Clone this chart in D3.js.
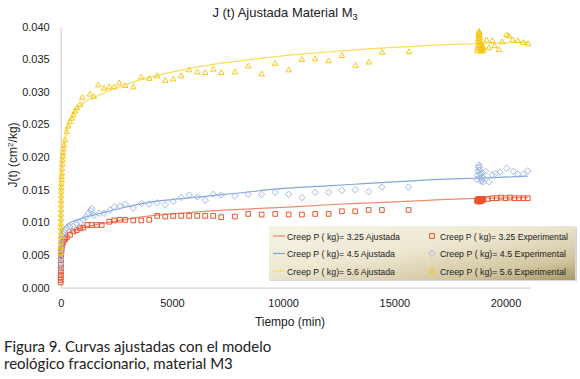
<!DOCTYPE html>
<html>
<head>
<meta charset="utf-8">
<script src="https://cdn.jsdelivr.net/npm/d3@7"></script>
<style>
  body { margin: 0; background: #fff; }
  svg { display: block; }
</style>
</head>
<body>
<svg width="580" height="379"></svg>
<script>
const width = 580, height = 379;

// fitted curves
const fitTime = [0, 10, 50, 150, 300, 600, 1000, 1800, 3000, 4000, 5000, 6500, 8000, 10000, 12000, 14000, 16000, 18000, 19000, 21000];
const fit325 = [0.0040, 0.0065, 0.0072, 0.0078, 0.0083, 0.0088, 0.0092, 0.0098, 0.0105, 0.0110, 0.0113, 0.0117, 0.0120, 0.0123, 0.0127, 0.0130, 0.0133, 0.0136, 0.0137, 0.0138];
const fit45  = [0.0040, 0.0075, 0.0085, 0.0092, 0.0097, 0.0102, 0.0107, 0.0114, 0.0124, 0.0131, 0.0135, 0.0140, 0.0145, 0.0152, 0.0156, 0.0160, 0.0164, 0.0167, 0.0168, 0.0171];
const fit56  = [0.0050, 0.0140, 0.0180, 0.0215, 0.0245, 0.0268, 0.0282, 0.0296, 0.0312, 0.0322, 0.0330, 0.0340, 0.0347, 0.0355, 0.0361, 0.0366, 0.0370, 0.0373, 0.0374, 0.0376];

// experimental 3.25
const exp325T = [0, 1, 2, 4, 6, 8, 10, 15, 20, 30, 40, 60, 80, 100, 150, 200, 270, 418, 566, 719, 867, 1016, 1196, 1393, 1618, 1843, 2184, 2409, 2665, 2904, 3263, 3623, 3982, 4342, 4701, 5061, 5421, 5780, 6140, 6499, 6858, 7218, 7834, 8432, 9034, 9645, 10247, 10845, 11443, 12045, 12643, 13240, 13843, 14440, 15640,
  18720, 18740, 18760, 18780, 18800, 18820, 18840, 18860, 18880, 18900, 18920, 18940, 18960, 18980, 19000, 19200, 19400, 19600, 19800, 20000, 20200, 20400, 20600, 20800, 21000];
const exp325V = [0.0008, 0.0012, 0.0016, 0.0020, 0.0025, 0.0030, 0.0035, 0.0042, 0.0050, 0.0056, 0.0060, 0.0064, 0.0067, 0.0070, 0.0073, 0.0075, 0.0077, 0.0081, 0.0086, 0.0088, 0.0091, 0.0092, 0.0096, 0.0096, 0.0096, 0.0096, 0.0101, 0.0103, 0.0104, 0.0104, 0.0103, 0.0103, 0.0104, 0.0110, 0.0109, 0.0110, 0.0110, 0.0110, 0.0110, 0.0110, 0.0110, 0.0108, 0.0109, 0.0113, 0.0112, 0.0113, 0.0112, 0.0112, 0.0113, 0.0113, 0.0117, 0.0117, 0.0119, 0.0119, 0.0119,
  0.0133, 0.0135, 0.0132, 0.0136, 0.0134, 0.0133, 0.0135, 0.0132, 0.0134, 0.0136, 0.0133, 0.0135, 0.0134, 0.0136, 0.0135, 0.0136, 0.0137, 0.0137, 0.0138, 0.0137, 0.0138, 0.0137, 0.0137, 0.0137, 0.0137];

// experimental 4.5
const exp45T = [0, 2, 5, 10, 15, 20, 30, 40, 50, 70, 100, 150, 200, 270, 418, 566, 719, 867, 1016, 1137, 1240, 1348, 1400, 1497, 1735, 1946, 2216, 2409, 2665, 2904, 3263, 3640, 3982, 4342, 4701, 5061, 5421, 5780, 6140, 6499, 6858, 7218, 7834, 8432, 9034, 9645, 10247, 10845, 11443, 12045, 12643, 13240, 13843, 14440, 15640,
  18720, 18740, 18760, 18780, 18800, 18820, 18840, 18860, 18880, 18900, 18920, 18940, 18960, 18980, 19000, 19100, 19250, 19400, 19550, 19750, 20050, 20350, 20550, 20800, 21000];
const exp45V = [0.0030, 0.0038, 0.0045, 0.0052, 0.0058, 0.0063, 0.0068, 0.0072, 0.0076, 0.0080, 0.0083, 0.0086, 0.0089, 0.0091, 0.0093, 0.0094, 0.0098, 0.0100, 0.0104, 0.0108, 0.0114, 0.0118, 0.0121, 0.0111, 0.0114, 0.0114, 0.0119, 0.0124, 0.0125, 0.0128, 0.0122, 0.0129, 0.0128, 0.0130, 0.0127, 0.0132, 0.0138, 0.0142, 0.0139, 0.0134, 0.0143, 0.0142, 0.0140, 0.0143, 0.0143, 0.0146, 0.0143, 0.0138, 0.0146, 0.0146, 0.0149, 0.0150, 0.0147, 0.0154, 0.0154,
  0.0166, 0.0172, 0.0178, 0.0184, 0.0188, 0.0185, 0.0180, 0.0174, 0.0168, 0.0163, 0.0165, 0.0170, 0.0176, 0.0168, 0.0162, 0.0178, 0.0162, 0.0173, 0.0175, 0.0177, 0.0183, 0.0178, 0.0174, 0.0174, 0.0179];

// experimental 5.6
const exp56T = [0, 1, 2, 3, 4, 5, 6, 8, 10, 12, 15, 18, 21, 25, 30, 35, 40, 45, 50, 60, 70, 80, 90, 100, 120, 150, 193, 270, 341, 418, 494, 566, 643, 719, 867, 971, 1317, 1483, 1690, 1946, 2184, 2409, 2634, 2904, 3263, 3623, 3982, 4342, 4701, 5061, 5421, 5780, 6140, 6499, 6858, 7218, 7834, 8432, 9034, 9645, 10247, 10845, 11443, 12045, 12643, 13258, 13856, 14454, 15654,
  18740, 18750, 18760, 18770, 18780, 18790, 18800, 18810, 18820, 18830, 18840, 18850, 18860, 18870, 18880, 18890, 18900, 18910, 18920, 18940, 18960, 18980, 19000, 19146, 19250, 19400, 19500, 19699, 19850, 20045, 20150, 20315, 20553, 20791, 21016];
const exp56V = [0.0053, 0.0062, 0.0070, 0.0078, 0.0085, 0.0092, 0.0098, 0.0105, 0.0112, 0.0119, 0.0126, 0.0133, 0.0140, 0.0147, 0.0153, 0.0159, 0.0165, 0.0170, 0.0175, 0.0182, 0.0189, 0.0195, 0.0201, 0.0206, 0.0212, 0.0218, 0.0226, 0.0239, 0.0247, 0.0254, 0.0259, 0.0264, 0.0270, 0.0275, 0.0280, 0.0291, 0.0296, 0.0292, 0.0310, 0.0305, 0.0307, 0.0307, 0.0313, 0.0309, 0.0307, 0.0322, 0.0320, 0.0324, 0.0317, 0.0319, 0.0324, 0.0333, 0.0330, 0.0329, 0.0334, 0.0329, 0.0330, 0.0339, 0.0327, 0.0343, 0.0333, 0.0349, 0.0350, 0.0347, 0.0355, 0.0340, 0.0345, 0.0360, 0.0361,
  0.0362, 0.0366, 0.0371, 0.0376, 0.0381, 0.0385, 0.0389, 0.0392, 0.0390, 0.0386, 0.0382, 0.0378, 0.0374, 0.0370, 0.0367, 0.0364, 0.0362, 0.0365, 0.0368, 0.0372, 0.0365, 0.0368, 0.0362, 0.0379, 0.0367, 0.0378, 0.0370, 0.0364, 0.0376, 0.0387, 0.0385, 0.0379, 0.0378, 0.0375, 0.0373];

const xTicks = [0, 5000, 10000, 15000, 20000];
const yTicks = [0, 0.005, 0.010, 0.015, 0.020, 0.025, 0.030, 0.035, 0.040];

const seriesNames = ["3.25", "4.5", "5.6"];
const lineColors = ["#f08b72", "#80a6da", "#fbdc5e"];
const markColors = ["#e8552c", "#9db8e4", "#f6c814"];

const svg = d3.select("svg");

const x = d3.scaleLinear().domain([0, 21100]).range([60.7, 530]);
const y = d3.scaleLinear().domain([0, 0.04]).range([287.7, 26.5]);

// axes
const xAxis = svg.append("g")
  .attr("transform", `translate(0, ${y(0)})`)
  .call(d3.axisBottom(x).tickValues(xTicks).tickSize(0).tickPadding(12).tickFormat(d3.format("d")));
const yAxis = svg.append("g")
  .attr("transform", `translate(${x(0)}, 0)`)
  .call(d3.axisLeft(y).tickValues(yTicks).tickSize(0).tickPadding(11).tickFormat(d3.format(".3f")));
[xAxis, yAxis].forEach(g => {
  g.select(".domain").attr("stroke", "#d4d4d4").attr("stroke-width", 1.2);
  g.selectAll("text").attr("font-family", "Liberation Sans, Arial").attr("font-size", "11px").attr("fill", "#222");
});

// fitted lines
const line = d3.line().x(d => x(d[0])).y(d => y(d[1])).curve(d3.curveMonotoneX);
[fit325, fit45, fit56].forEach((vals, i) => {
  svg.append("path")
    .attr("d", line(fitTime.map((t, j) => [t, vals[j]])))
    .attr("fill", "none")
    .attr("stroke", lineColors[i])
    .attr("stroke-width", 1.2);
});

// markers
const squares = d3.symbol().type(d3.symbolSquare).size(22);
const diamonds = d3.symbol().type(d3.symbolDiamond2).size(26);
const triangles = d3.symbol().type(d3.symbolTriangle2).size(22);

function drawMarks(ts, vs, sym, color) {
  svg.append("g").selectAll("path")
    .data(ts.map((t, i) => [t, vs[i]]))
    .enter().append("path")
    .attr("transform", d => `translate(${x(d[0])}, ${y(d[1])})`)
    .attr("d", sym)
    .attr("fill", "none")
    .attr("stroke", color)
    .attr("stroke-width", 1);
}
drawMarks(exp325T, exp325V, squares, markColors[0]);
drawMarks(exp45T, exp45V, diamonds, markColors[1]);
drawMarks(exp56T, exp56V, triangles, markColors[2]);

// title
const title = svg.append("text")
  .attr("x", 285).attr("y", 17)
  .attr("text-anchor", "middle")
  .attr("font-family", "Liberation Sans, Arial")
  .attr("font-size", "13px")
  .attr("fill", "#222");
title.append("tspan").text("J (t) Ajustada Material M");
title.append("tspan").attr("font-size", "9px").attr("dy", 3).text("3");

// axis labels
svg.append("text")
  .attr("x", 290).attr("y", 326)
  .attr("text-anchor", "middle")
  .attr("font-family", "Liberation Sans, Arial")
  .attr("font-size", "12px")
  .attr("fill", "#222")
  .text("Tiempo (min)");

const yl = svg.append("text")
  .attr("transform", "translate(17, 155) rotate(-90)")
  .attr("text-anchor", "middle")
  .attr("font-family", "Liberation Sans, Arial")
  .attr("font-size", "12px")
  .attr("fill", "#222");
yl.append("tspan").text("J(t) (cm");
yl.append("tspan").attr("font-size", "8px").attr("dy", -4).text("2");
yl.append("tspan").attr("dy", 4).text("/kg)");

// legend
const defs = svg.append("defs");
const grad = defs.append("linearGradient").attr("id", "lg")
  .attr("x1", "0").attr("y1", "0").attr("x2", "1").attr("y2", "1");
grad.append("stop").attr("offset", "0").attr("stop-color", "#f7f4e7");
grad.append("stop").attr("offset", "0.45").attr("stop-color", "#eee8d2");
grad.append("stop").attr("offset", "0.8").attr("stop-color", "#d2c6a0");
grad.append("stop").attr("offset", "1").attr("stop-color", "#a89866");

const legend = svg.append("g").attr("transform", "translate(269, 226)");
legend.append("rect").attr("x", 1).attr("y", 1).attr("width", 307).attr("height", 54).attr("fill", "#d8d8d8");
legend.append("rect").attr("width", 306).attr("height", 54).attr("fill", "url(#lg)");

const legendFont = "Liberation Sans, Arial";
seriesNames.forEach((name, i) => {
  const ry = 10 + i * 17.5;
  legend.append("line")
    .attr("x1", 4).attr("x2", 16).attr("y1", ry).attr("y2", ry)
    .attr("stroke", lineColors[i]).attr("stroke-width", 1.2);
  legend.append("text")
    .attr("x", 18).attr("y", ry + 3.5)
    .attr("font-family", legendFont).attr("font-size", "9.5px").attr("fill", "#222")
    .attr("textLength", i === 0 ? 113 : 108).attr("lengthAdjust", "spacingAndGlyphs")
    .text(`Creep P ( kg)= ${name} Ajustada`);
  legend.append("path")
    .attr("transform", `translate(163, ${ry})`)
    .attr("d", [squares, diamonds, triangles][i])
    .attr("fill", "none").attr("stroke", markColors[i]).attr("stroke-width", 1);
  legend.append("text")
    .attr("x", 171).attr("y", ry + 3.5)
    .attr("font-family", legendFont).attr("font-size", "9.5px").attr("fill", "#222")
    .attr("textLength", i === 0 ? 128 : 126).attr("lengthAdjust", "spacingAndGlyphs")
    .text(`Creep P ( kg)= ${name} Experimental`);
});

// caption
const caption = ["Figura 9. Curvas ajustadas con el modelo", "reológico fraccionario, material M3"];
caption.forEach((c, i) => {
  svg.append("text")
    .attr("x", 4).attr("y", 352 + i * 17)
    .attr("font-family", "Lato, Open Sans, sans-serif")
    .attr("font-size", "15px")
    .attr("fill", "#222")
    .text(c);
});
</script>
</body>
</html>
